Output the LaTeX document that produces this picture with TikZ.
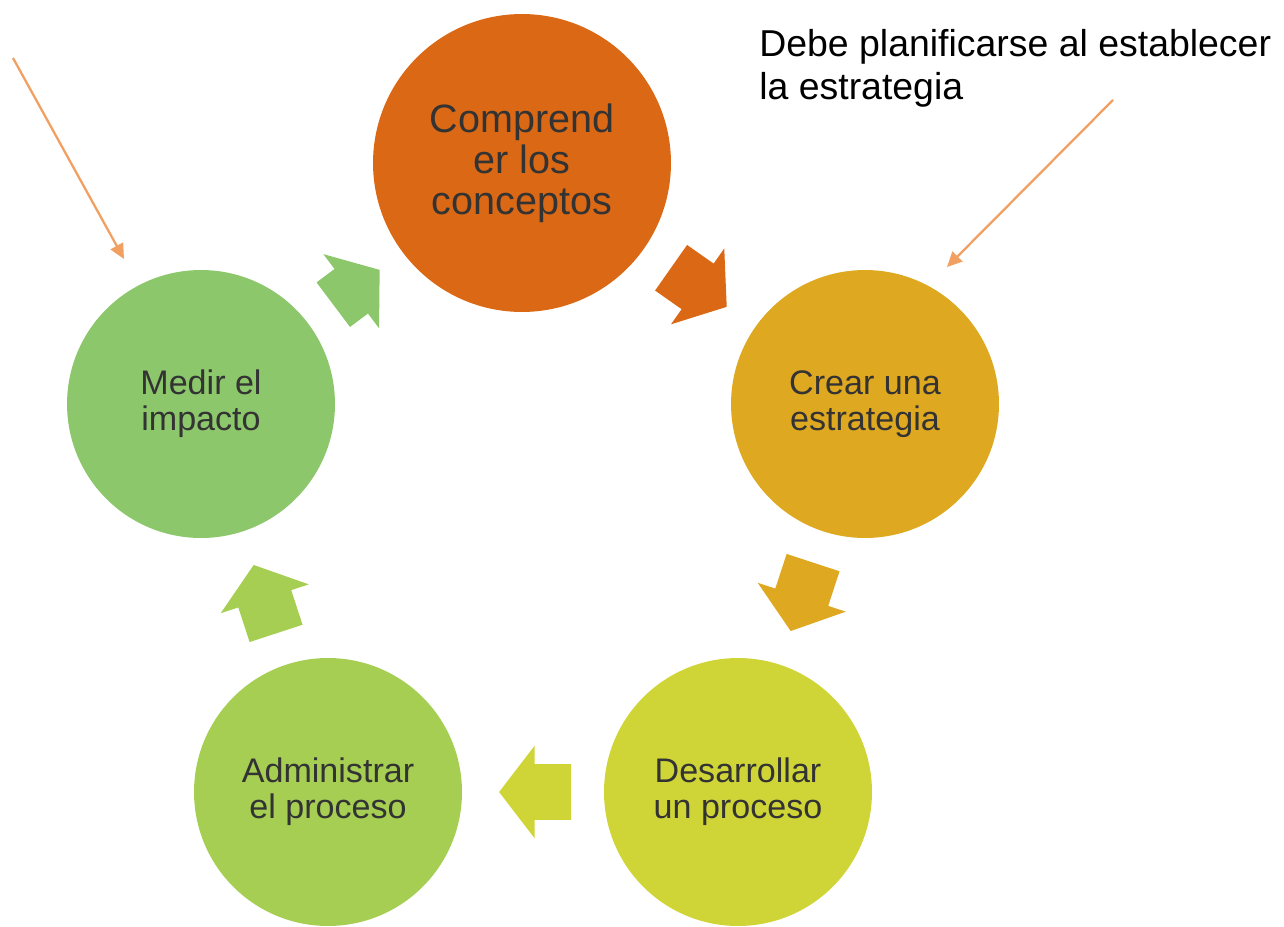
\documentclass[tikz,border=0pt]{standalone}
\usepackage{fontspec}
\setmainfont{Liberation Sans}
\usepackage{xcolor}
\usepackage{tikz}
\usetikzlibrary{shapes,arrows,positioning,calc,arrows.meta}

\definecolor{stepOrange}{RGB}{219,104,20}
\definecolor{stepGold}{RGB}{222,168,33}
\definecolor{stepLime}{RGB}{208,213,55}
\definecolor{stepGreen}{RGB}{165,206,83}
\definecolor{stepLeaf}{RGB}{140,199,107}
\definecolor{noteArrow}{RGB}{242,160,98}
\definecolor{stepText}{RGB}{51,51,51}

\begin{document}
\begin{tikzpicture}[x=0.02cm, y=-0.02cm,
        stage/.style={circle, fill=#1, minimum size=5.36cm, inner sep=0pt, outer sep=0pt, text=stepText, align=center, font=\fontsize{19.4}{20.4}\selectfont},
        cyclearrow/.style={single arrow, fill=#1, draw=none, minimum height=1.44cm, inner xsep=0pt, inner ysep=0.55cm, single arrow head extend=0.37cm, single arrow tip angle=105, pos=0.415, sloped, allow upside down},
        notearrow/.style={draw=noteArrow, line width=1.3pt, -{Triangle[length=0.3cm, width=0.28cm]}}]
        \useasboundingbox (0,0) rectangle (1284,926);

        % the five stages of the cycle
        \node [stage=stepOrange, minimum size=5.96cm, font=\fontsize{22.5}{23.3}\selectfont] (Understand) at (522,163) {Comprend\\er los\\conceptos};
        \node [stage=stepGold] (Strategy) at (865,404) {Crear una\\estrategia};
        \node [stage=stepLime] (Develop) at (738,792) {Desarrollar\\un proceso};
        \node [stage=stepGreen] (Manage) at (328,792) {Administrar\\el proceso};
        \node [stage=stepLeaf] (Measure) at (201,404) {Medir el\\impacto};

        % block arrows between the stages
        \path (Understand) -- node [cyclearrow=stepOrange, minimum height=1.36cm] (ArrowA) {} (Strategy);
        \path (Strategy) -- node [cyclearrow=stepGold] (ArrowB) {} (Develop);
        \path (Develop) -- node [cyclearrow=stepLime, pos=0.41] (ArrowC) {} (Manage);
        \path (Manage) -- node [cyclearrow=stepGreen] (ArrowD) {} (Measure);
        \path (Measure) -- node [cyclearrow=stepLeaf, minimum height=1.16cm, pos=0.42] (ArrowE) {} (Understand);

        % note and pointers
        \node [anchor=north west, inner sep=0pt, align=left, font=\fontsize{21.3}{24.4}\selectfont] (Note) at (759,29) {Debe planificarse al establecer\\la estrategia};
        \coordinate (PointerLStart) at (13,58);
        \coordinate (PointerLEnd) at (124,259);
        \coordinate (PointerRStart) at (1113,100);
        \coordinate (PointerREnd) at (947,267);
        \draw [notearrow] (PointerLStart) -- (PointerLEnd);
        \draw [notearrow] (PointerRStart) -- (PointerREnd);
\end{tikzpicture}
\end{document}
